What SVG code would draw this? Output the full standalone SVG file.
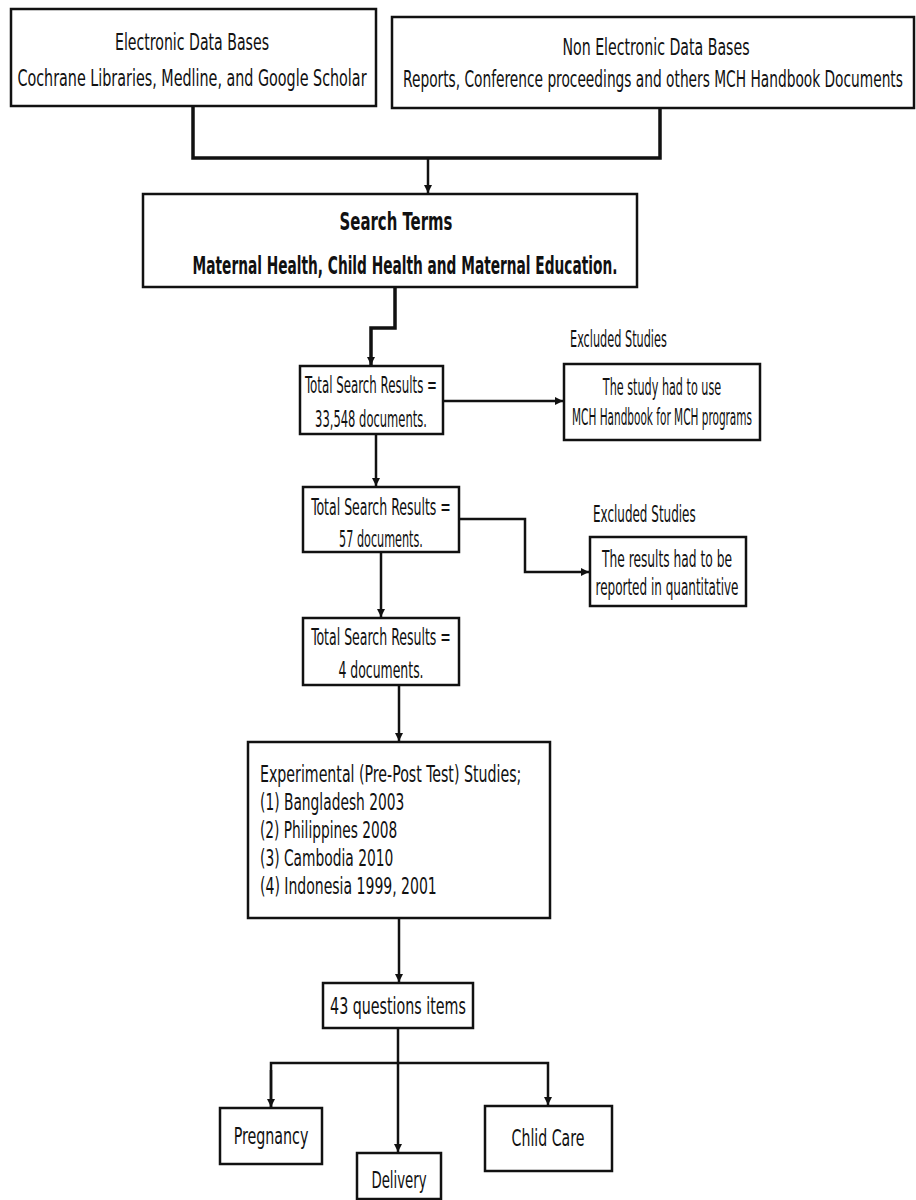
<svg xmlns="http://www.w3.org/2000/svg" width="916" height="1200" viewBox="0 0 916 1200">
<defs>
<style>
.box{fill:#fff;stroke:#111;stroke-width:2.5}
.t{font-family:"DejaVu Sans","Liberation Sans",sans-serif;font-stretch:condensed;font-size:23px;fill:#111}
.b{font-family:"DejaVu Sans","Liberation Sans",sans-serif;font-weight:bold;font-size:24px;fill:#111}
.c{text-anchor:middle}
.ln{fill:none;stroke:#111;stroke-width:2.5}
.thk{fill:none;stroke:#111;stroke-width:3.5}
</style>
<marker id="ah" viewBox="0 0 10 10" refX="10" refY="5" markerWidth="8" markerHeight="8" markerUnits="userSpaceOnUse" orient="auto">
<path d="M0,0 L10,5 L0,10 z" fill="#111"/>
</marker>
</defs>
<rect width="916" height="1200" fill="#fff"/>

<g id="connectors">
<path class="thk" d="M193,106 V158 H660 V108"/>
<path class="ln" d="M428,158 V193" marker-end="url(#ah)"/>
<path class="thk" d="M395,287 V328 H371 V365" marker-end="url(#ah)"/>
<path class="ln" d="M443,401 H563" marker-end="url(#ah)"/>
<path class="ln" d="M376,434 V486" marker-end="url(#ah)"/>
<path class="ln" d="M459,519 H525 V572 H589" marker-end="url(#ah)"/>
<path class="ln" d="M381,552 V617" marker-end="url(#ah)"/>
<path class="ln" d="M399,685 V741" marker-end="url(#ah)"/>
<path class="ln" d="M399,918 V982" marker-end="url(#ah)"/>
<path class="ln" d="M398,1028 V1152" marker-end="url(#ah)"/>
<path class="ln" d="M271,1107 V1063 H548 V1105" marker-end="url(#ah)"/>
<path class="ln" d="M271,1070 V1107" marker-end="url(#ah)"/>
</g>

<g id="electronic">
<rect class="box" x="11" y="9" width="365" height="97"/>
<text class="t c" transform="translate(192 0) scale(0.65 1)" x="0" y="50" textLength="237" lengthAdjust="spacingAndGlyphs">Electronic Data Bases</text>
<text class="t c" transform="translate(192 0) scale(0.65 1)" x="0" y="86" textLength="537" lengthAdjust="spacingAndGlyphs">Cochrane Libraries, Medline, and Google Scholar</text>
</g>

<g id="nonelectronic">
<rect class="box" x="392" y="17" width="522" height="91"/>
<text class="t c" transform="translate(656 0) scale(0.65 1)" x="0" y="55" textLength="288" lengthAdjust="spacingAndGlyphs">Non Electronic Data Bases</text>
<text class="t c" transform="translate(653 0) scale(0.65 1)" x="0" y="87" textLength="769" lengthAdjust="spacingAndGlyphs">Reports, Conference proceedings and others MCH Handbook Documents</text>
</g>

<g id="search">
<rect class="box" x="143" y="194" width="494" height="93"/>
<text class="b c" transform="translate(396 0) scale(0.6 1)" x="0" y="230" textLength="188" lengthAdjust="spacingAndGlyphs">Search Terms</text>
<text class="b c" transform="translate(405 0) scale(0.6 1)" x="0" y="274" textLength="708" lengthAdjust="spacingAndGlyphs">Maternal Health, Child Health and Maternal Education.</text>
</g>

<g id="result1">
<rect class="box" x="300" y="366" width="143" height="68"/>
<text class="t c" transform="translate(371 0) scale(0.65 1)" x="0" y="393" textLength="203" lengthAdjust="spacingAndGlyphs">Total Search Results =</text>
<text class="t c" transform="translate(371 0) scale(0.65 1)" x="0" y="427" textLength="172" lengthAdjust="spacingAndGlyphs">33,548 documents.</text>
</g>

<g id="excluded1">
<text class="t" transform="translate(570 0) scale(0.65 1)" x="0" y="347" textLength="149" lengthAdjust="spacingAndGlyphs">Excluded Studies</text>
<rect class="box" x="564" y="364" width="196" height="76"/>
<text class="t c" transform="translate(662 0) scale(0.65 1)" x="0" y="395" textLength="182" lengthAdjust="spacingAndGlyphs">The study had to use</text>
<text class="t c" transform="translate(662 0) scale(0.65 1)" x="0" y="425" textLength="277" lengthAdjust="spacingAndGlyphs">MCH Handbook for MCH programs</text>
</g>

<g id="result2">
<rect class="box" x="303" y="487" width="156" height="65"/>
<text class="t c" transform="translate(381 0) scale(0.65 1)" x="0" y="515" textLength="215" lengthAdjust="spacingAndGlyphs">Total Search Results =</text>
<text class="t c" transform="translate(381 0) scale(0.65 1)" x="0" y="547" textLength="129" lengthAdjust="spacingAndGlyphs">57 documents.</text>
</g>

<g id="excluded2">
<text class="t" transform="translate(593 0) scale(0.65 1)" x="0" y="522" textLength="158" lengthAdjust="spacingAndGlyphs">Excluded Studies</text>
<rect class="box" x="590" y="537" width="156" height="69"/>
<text class="t c" transform="translate(667 0) scale(0.65 1)" x="0" y="567" textLength="200" lengthAdjust="spacingAndGlyphs">The results had to be</text>
<text class="t c" transform="translate(667 0) scale(0.65 1)" x="0" y="595" textLength="220" lengthAdjust="spacingAndGlyphs">reported in quantitative</text>
</g>

<g id="result3">
<rect class="box" x="303" y="618" width="156" height="67"/>
<text class="t c" transform="translate(381 0) scale(0.65 1)" x="0" y="645" textLength="215" lengthAdjust="spacingAndGlyphs">Total Search Results =</text>
<text class="t c" transform="translate(381 0) scale(0.65 1)" x="0" y="678" textLength="131" lengthAdjust="spacingAndGlyphs">4 documents.</text>
</g>

<g id="experimental">
<rect class="box" x="248" y="742" width="302" height="176"/>
<text class="t" transform="translate(260 0) scale(0.65 1)" x="0" y="782" textLength="402" lengthAdjust="spacingAndGlyphs">Experimental (Pre-Post Test) Studies;</text>
<text class="t" transform="translate(260 0) scale(0.65 1)" x="0" y="810" textLength="222" lengthAdjust="spacingAndGlyphs">(1) Bangladesh 2003</text>
<text class="t" transform="translate(260 0) scale(0.65 1)" x="0" y="838" textLength="211" lengthAdjust="spacingAndGlyphs">(2) Philippines 2008</text>
<text class="t" transform="translate(260 0) scale(0.65 1)" x="0" y="866" textLength="205" lengthAdjust="spacingAndGlyphs">(3) Cambodia 2010</text>
<text class="t" transform="translate(260 0) scale(0.65 1)" x="0" y="894" textLength="272" lengthAdjust="spacingAndGlyphs">(4) Indonesia 1999, 2001</text>
</g>

<g id="questions">
<rect class="box" x="323" y="983" width="150" height="45"/>
<text class="t c" transform="translate(398 0) scale(0.65 1)" x="0" y="1014" textLength="209" lengthAdjust="spacingAndGlyphs">43 questions items</text>
</g>

<g id="pregnancy">
<rect class="box" x="220" y="1108" width="102" height="56"/>
<text class="t c" transform="translate(271 0) scale(0.65 1)" x="0" y="1144" textLength="115" lengthAdjust="spacingAndGlyphs">Pregnancy</text>
</g>

<g id="delivery">
<rect class="box" x="357" y="1153" width="84" height="46"/>
<text class="t c" transform="translate(399 0) scale(0.65 1)" x="0" y="1188" textLength="85" lengthAdjust="spacingAndGlyphs">Delivery</text>
</g>

<g id="childcare">
<rect class="box" x="485" y="1106" width="127" height="65"/>
<text class="t c" transform="translate(548 0) scale(0.65 1)" x="0" y="1146" textLength="112" lengthAdjust="spacingAndGlyphs">Chlid Care</text>
</g>
</svg>
